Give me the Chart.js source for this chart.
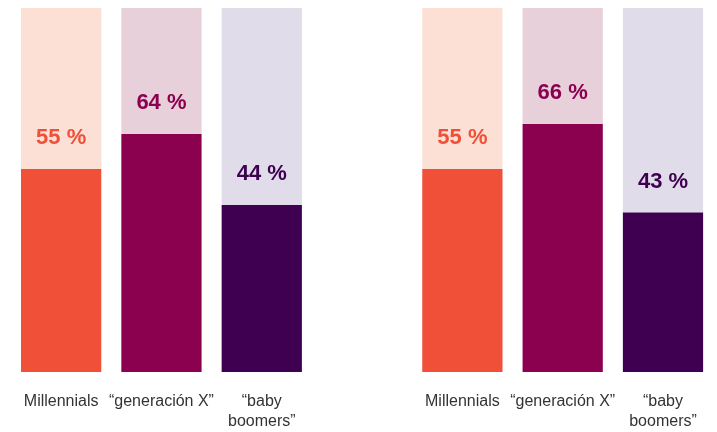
<!DOCTYPE html>
<html>
<head>
<meta charset="utf-8">
<script src="https://cdn.jsdelivr.net/npm/chart.js@4.4.0/dist/chart.umd.min.js"></script>
<style>
  html, body { margin: 0; padding: 0; background: #fff; }
  #wrap { width: 717px; height: 432px; overflow: hidden; }
</style>
</head>
<body>
<div id="wrap"><canvas id="genChart" width="717" height="452"></canvas></div>
<script>
// categories (empty slot in the middle separates the two groups)
const categories = [
  "Millennials", "“generación X”", ["“baby", "boomers”"],
  "",
  "Millennials", "“generación X”", ["“baby", "boomers”"]
];
// printed labels
const valueLabels = ["55 %", "64 %", "44 %", "", "55 %", "66 %", "43 %"];
// bar heights as drawn in the picture (percent of full bar)
const barValues = [55.8, 65.4, 45.9, null, 55.8, 68.1, 43.8];

const darkColors = ["#F04F38", "#8B004F", "#3F0051", "#fff", "#F04F38", "#8B004F", "#3F0051"];
const paleColors = ["#FCE0D5", "#E7D0DA", "#E0DCEA", "#fff", "#FCE0D5", "#E7D0DA", "#E0DCEA"];

const restValues = barValues.map(v => v == null ? null : 100 - v);

const valueLabelPlugin = {
  id: "valueLabels",
  afterDatasetsDraw(chart) {
    const ctx = chart.ctx;
    const meta = chart.getDatasetMeta(0);
    ctx.save();
    ctx.font = "bold 22px 'Liberation Sans', Arial, Helvetica, sans-serif";
    ctx.textAlign = "center";
    ctx.textBaseline = "middle";
    meta.data.forEach((bar, i) => {
      if (!valueLabels[i]) return;
      ctx.fillStyle = darkColors[i];
      ctx.fillText(valueLabels[i], bar.x, bar.y - 31);
    });
    ctx.restore();
  }
};

new Chart(document.getElementById("genChart").getContext("2d"), {
  type: "bar",
  data: {
    labels: categories,
    datasets: [
      {
        data: barValues,
        backgroundColor: darkColors,
        borderWidth: 0,
        barPercentage: 0.8,
        categoryPercentage: 1
      },
      {
        data: restValues,
        backgroundColor: paleColors,
        borderWidth: 0,
        barPercentage: 0.8,
        categoryPercentage: 1
      }
    ]
  },
  options: {
    responsive: false,
    animation: false,
    layout: { padding: { top: 8, left: 11, right: 3, bottom: 0 } },
    plugins: {
      legend: { display: false },
      tooltip: { enabled: false }
    },
    scales: {
      x: {
        stacked: true,
        grid: { display: false, drawTicks: false },
        border: { display: false },
        ticks: {
          autoSkip: false,
          maxRotation: 0,
          minRotation: 0,
          padding: 20,
          color: "#333",
          font: { family: "'Liberation Sans', Arial, Helvetica, sans-serif", size: 16, lineHeight: 1.25 }
        }
      },
      y: {
        stacked: true,
        display: false,
        min: 0,
        max: 100
      }
    }
  },
  plugins: [valueLabelPlugin]
});
</script>
</body>
</html>
